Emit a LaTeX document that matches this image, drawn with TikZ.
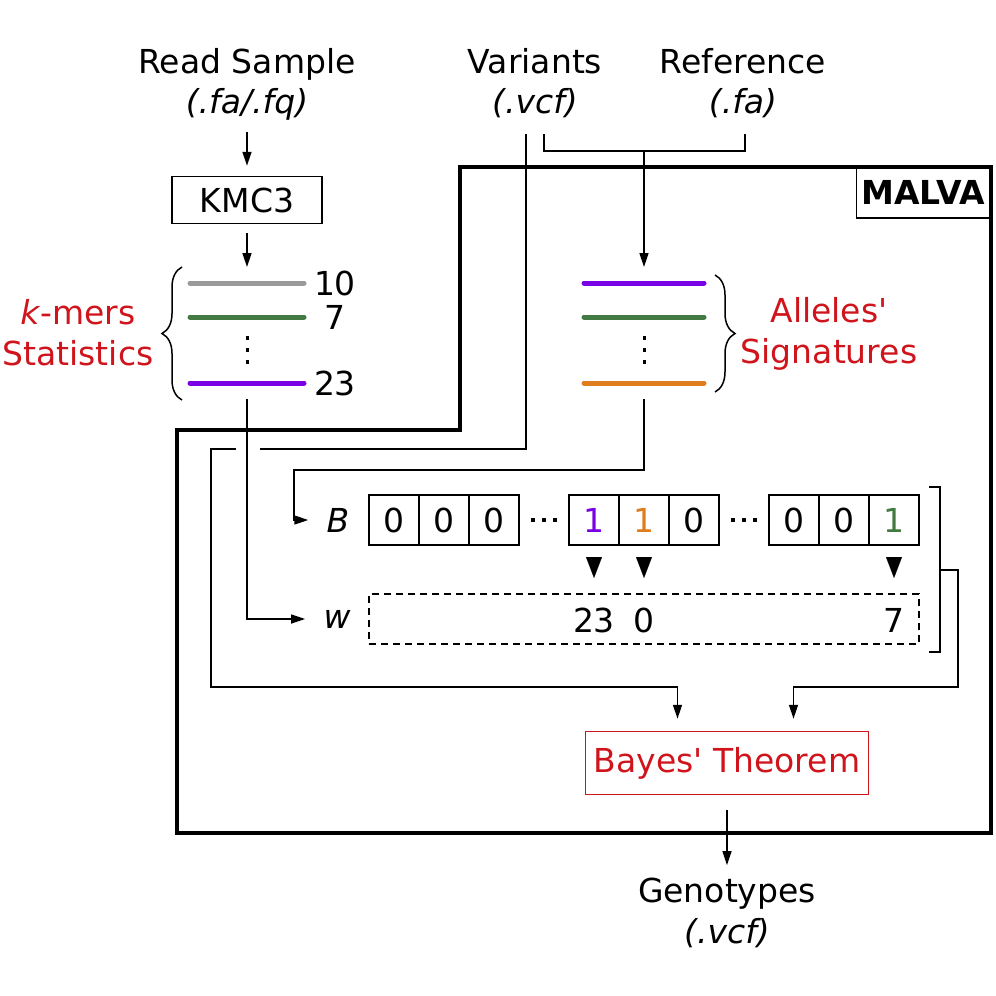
\documentclass[tikz,border=0pt]{standalone}
\usepackage{fontspec}
\setmainfont{DejaVu Sans}
\usetikzlibrary{positioning}
\usetikzlibrary{arrows.meta, decorations.pathreplacing}

\definecolor{malvared}{HTML}{D0141C}
\definecolor{kpurple}{HTML}{7A00E6}
\definecolor{kgreen}{HTML}{437A43}
\definecolor{korange}{HTML}{DE7C1E}
\definecolor{kgray}{HTML}{9A9A9A}

\begin{document}
\begin{tikzpicture}[x=0.5pt, y=-0.5pt,
  txt/.style={inner sep=0pt, font=\fontsize{16.5}{19}\selectfont},
  ext/.style={inner sep=0pt, font=\fontsize{16.5}{19}\selectfont\itshape},
  link/.style={line width=0.75pt},
  flow/.style={line width=0.75pt, -{Triangle[length=7pt,width=4.5pt]}},
  tri/.style={line width=0.1pt, -{Triangle[length=10.5pt,width=8pt]}},
  bar/.style={line width=2.5pt, line cap=round},
  cell/.style={draw, line width=0.75pt, minimum width=25pt, minimum height=25pt, inner sep=0pt, font=\fontsize{16.5}{19}\selectfont},
  frame/.style={line width=1.75pt, line join=miter},
  curly/.style={line width=0.75pt, decorate, decoration={brace, amplitude=10pt}}]

  \useasboundingbox (0,0) rectangle (996,996);

  % inputs
  \node[txt, anchor=base] (read) at (247,73) {Read Sample};
  \node[ext, anchor=base] (readext) at (247,113) {(.fa/.fq)};
  \node[txt, anchor=base] (vcf) at (535,73) {Variants};
  \node[ext, anchor=base] (vcfext) at (535,113) {(.vcf)};
  \node[txt, anchor=base] (fa) at (743,73) {Reference};
  \node[ext, anchor=base] (faext) at (743,113) {(.fa)};

  % k-mer counting
  \node[draw, line width=0.75pt, minimum width=75pt, minimum height=23.5pt, font=\fontsize{16.5}{19}\selectfont] (kmc) at (247,200) {KMC3};
  \coordinate (kin) at (247,267);
  \draw[flow, shorten <=6pt, shorten >=5pt] (readext) -- (kmc);
  \draw[flow, shorten <=4.5pt] (kmc) -- (kin);

  \foreach \y/\c/\n in {283/kgray/10, 317/kgreen/7, 383/kpurple/23} {
    \draw[bar, \c] (190,\y) -- (304,\y);
    \node[txt] (cnt\n) at (335,\y) {\n};
  }
  \foreach \d in {338,350,362} \fill (245.5,\d-1.75) rectangle ++(3.5,3.5); % vertical dots
  \draw[curly] (182,400) -- (182,267);
  \node[txt, text=malvared, anchor=base] (kmerlbl) at (78,324) {\textit{k}-mers};
  \node[txt, text=malvared, anchor=base] (statlbl) at (78,365) {Statistics};

  % alleles signatures
  \coordinate (vcfL) at (526,134);
  \coordinate (vcfR) at (544,134);
  \coordinate (faL) at (745,134);
  \coordinate (join) at (644,151);
  \coordinate (allin) at (644,267);
  \draw[link] (vcfR) |- (join) -| (faL);
  \draw[flow] (join) -- (allin);

  \foreach \y/\c in {283/kpurple, 317/kgreen, 383/korange}
    \draw[bar, \c] (584,\y) -- (704,\y);
  \foreach \d in {338,350,362} \fill (642.5,\d-1.75) rectangle ++(3.5,3.5);
  \draw[curly] (715,275) -- (715,392);
  \node[txt, text=malvared, anchor=base] (alllbl) at (829,322) {Alleles\textquotesingle};
  \node[txt, text=malvared, anchor=base] (siglbl) at (829,363) {Signatures};

  % bit vector B and weights w
  \node[ext] (Blbl) at (338,520) {B};
  \node[ext] (wlbl) at (337,619) {w};
  \foreach \k/\v/\c in {0/0/black, 1/0/black, 2/0/black, 4/1/kpurple, 5/1/korange, 6/0/black, 8/0/black, 9/0/black, 10/1/kgreen}
    \node[cell, text=\c] (b\k) at ({394+50*\k},520) {\v};
  \foreach \x in {533,544,555,733,744,755} \fill (\x-1.6,520-1.6) rectangle ++(3.2,3.2); % horizontal dots
  \node[draw, line width=0.75pt, dash pattern=on 3.5pt off 2.5pt, minimum width=275pt, minimum height=25pt] (wbox) at (644,619) {};
  \node[txt] (w4) at (594,620) {23};
  \node[txt] (w5) at (644,620) {0};
  \node[txt] (w10) at (894,620) {7};
  \foreach \k in {4,5,10}
    \draw[tri] ({394+50*\k},557) -- ++(0,21);

  \coordinate (allout) at (644,399);
  \coordinate (bturn) at (294,470);
  \draw[flow, shorten >=9pt] (allout) |- (bturn) |- (Blbl);
  \coordinate (kout) at (247,399);
  \draw[flow, shorten >=9pt] (kout) |- (wlbl);

  % bracket round B and w
  \draw[link] (929,487) -- (940,487) -- (940,652) -- (929,652);
  \coordinate (brk) at (940,570);

  % genotyping
  \node[draw=malvared, text=malvared, line width=0.75pt, minimum width=141.5pt, minimum height=31.5pt, inner sep=0pt, font=\fontsize{16.5}{19}\selectfont] (bayes) at (727,763) {Bayes\textquotesingle{} Theorem};

  \coordinate (gapL) at (236,449);
  \coordinate (gapR) at (260,449);
  \coordinate (railBL) at (211,687);
  \coordinate (railBR) at (958,687);
  \draw[link] (vcfL) |- (gapR);
  \draw[flow, shorten >=6pt] (gapL) -| (railBL) -| ([xshift=-24.75pt]bayes.north);
  \draw[flow, shorten >=6pt] (brk) -| (railBR) -| ([xshift=33.25pt]bayes.north);

  \node[txt, anchor=base] (geno) at (727,902) {Genotypes};
  \node[ext, anchor=base] (genoext) at (727,943) {(.vcf)};
  \draw[flow, shorten <=7.5pt, shorten >=6pt] (bayes) -- (geno);

  % MALVA frame
  \node[draw, line width=0.75pt, anchor=north east, minimum width=67pt, minimum height=25pt, inner sep=0pt, font=\fontsize{16.5}{19}\selectfont\bfseries] (malva) at (991,167) {MALVA};
  \draw[frame] (460,167) -- (991,167) -- (991,833) -- (177,833) -- (177,430) -- (460,430) -- cycle;

\end{tikzpicture}
\end{document}
